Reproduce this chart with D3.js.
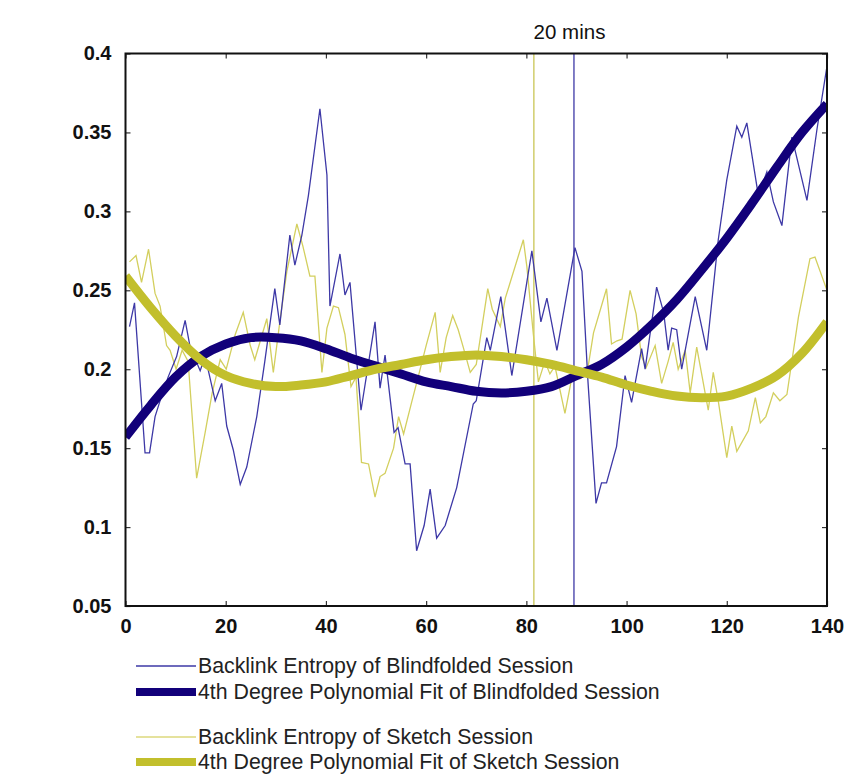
<!DOCTYPE html>
<html>
<head>
<meta charset="utf-8">
<script src="https://cdn.jsdelivr.net/npm/d3@7"></script>
<style>
  body { margin: 0; background: #ffffff; }
  svg { display: block; }
</style>
</head>
<body>
<div id="chart"></div>
<script>
// Thin series: [minute, entropy] vertices
const blindX = [0.8, 1.8, 3.9, 4.8, 5.9, 7.1, 8.5, 10.2, 11.9, 12.9, 14.9, 15.9, 17.9, 19.2, 20.2, 21.5, 22.9, 24.2, 26.2, 27.8,
  29.8, 30.8, 32.8, 33.8, 35.2, 36.5, 38.8, 40.2, 40.8, 42.8, 43.8, 44.8, 47.0, 49.8, 50.8, 51.8, 53.6, 54.4, 55.8, 56.8,
  58.1, 59.6, 60.8, 62.1, 63.8, 66.1, 69.4, 70.0, 72.1, 72.8, 74.9, 77.1, 81.1, 82.9, 84.1, 86.1, 89.7, 91.1, 92.3, 93.9,
  95.0, 96.0, 98.0, 99.7, 101.0, 103.0, 103.7, 106.0, 107.4, 108.3, 109.0, 110.0, 111.0, 113.7, 116.0, 118.3, 120.0, 122.0, 123.0, 124.0,
  126.3, 128.0, 129.3, 131.0, 133.0, 136.0, 138.0, 140.0];
const blindY = [0.227, 0.242, 0.147, 0.147, 0.170, 0.182, 0.195, 0.208, 0.231, 0.214, 0.199, 0.208, 0.180, 0.191, 0.164, 0.149, 0.127, 0.138, 0.170, 0.205,
  0.251, 0.228, 0.285, 0.266, 0.285, 0.310, 0.365, 0.323, 0.240, 0.273, 0.247, 0.255, 0.174, 0.230, 0.188, 0.209, 0.160, 0.163, 0.140, 0.140,
  0.085, 0.101, 0.124, 0.093, 0.101, 0.125, 0.178, 0.180, 0.220, 0.212, 0.246, 0.196, 0.275, 0.230, 0.245, 0.212, 0.277, 0.262, 0.192, 0.115,
  0.128, 0.128, 0.151, 0.196, 0.179, 0.213, 0.200, 0.252, 0.236, 0.212, 0.226, 0.225, 0.200, 0.246, 0.212, 0.282, 0.320, 0.354, 0.347, 0.356,
  0.310, 0.325, 0.306, 0.291, 0.347, 0.307, 0.352, 0.392];

const sketchX = [0.8, 2.1, 3.2, 4.6, 5.9, 6.9, 8.2, 8.9, 10.1, 11.3, 12.5, 14.2, 15.9, 17.3, 18.9, 20.1, 21.9, 23.5, 24.9, 25.8,
  28.2, 29.5, 30.8, 32.2, 34.2, 35.4, 36.8, 37.8, 39.2, 40.2, 41.5, 42.5, 43.8, 45.0, 46.0, 47.1, 48.5, 49.8, 50.8, 51.8,
  53.5, 54.5, 55.5, 57.1, 58.4, 60.0, 61.8, 62.8, 64.0, 65.3, 66.4, 67.4, 68.8, 70.0, 72.3, 73.2, 74.8, 75.8, 79.4, 80.1,
  81.4, 82.4, 83.7, 84.7, 85.7, 87.7, 89.1, 90.7, 92.1, 93.4, 96.0, 97.0, 98.1, 99.1, 100.7, 101.9, 103.0, 103.9, 105.7, 107.0,
  108.3, 109.3, 110.3, 111.7, 112.7, 114.0, 115.1, 116.3, 117.3, 118.3, 120.0, 121.0, 122.0, 124.3, 125.7, 126.7, 127.8, 129.3, 130.6, 132.0,
  134.3, 136.6, 137.6, 140.0];
const sketchY = [0.268, 0.272, 0.255, 0.276, 0.248, 0.240, 0.215, 0.212, 0.200, 0.212, 0.205, 0.131, 0.160, 0.185, 0.206, 0.200, 0.222, 0.236, 0.215, 0.206,
  0.232, 0.198, 0.230, 0.262, 0.292, 0.278, 0.259, 0.259, 0.198, 0.226, 0.240, 0.239, 0.222, 0.189, 0.195, 0.141, 0.140, 0.119, 0.132, 0.134,
  0.150, 0.170, 0.159, 0.179, 0.195, 0.215, 0.236, 0.198, 0.220, 0.234, 0.225, 0.214, 0.198, 0.203, 0.251, 0.238, 0.227, 0.245, 0.282, 0.265,
  0.222, 0.192, 0.205, 0.197, 0.202, 0.172, 0.195, 0.194, 0.197, 0.223, 0.251, 0.216, 0.218, 0.219, 0.250, 0.235, 0.208, 0.201, 0.215, 0.191,
  0.205, 0.217, 0.200, 0.212, 0.185, 0.214, 0.195, 0.174, 0.198, 0.180, 0.144, 0.164, 0.148, 0.161, 0.182, 0.166, 0.170, 0.185, 0.180, 0.184,
  0.233, 0.270, 0.271, 0.250];

// Polynomial fits, read every 5 minutes
const fitX = [0, 5, 10, 15, 20, 25, 30, 35, 40, 45, 50, 55, 60, 65, 70, 75, 80, 85, 90, 95, 100, 105, 110, 115, 120, 125, 130, 135, 140];
const blindFit = [0.157, 0.177, 0.195, 0.208, 0.216, 0.220, 0.220, 0.218, 0.213, 0.207, 0.202, 0.197, 0.192, 0.189, 0.186, 0.185, 0.186, 0.189, 0.196,
  0.203, 0.214, 0.228, 0.244, 0.263, 0.283, 0.305, 0.328, 0.350, 0.368];
const sketchFit = [0.259, 0.239, 0.221, 0.206, 0.196, 0.191, 0.189, 0.190, 0.192, 0.196, 0.200, 0.203, 0.206, 0.208, 0.209, 0.208, 0.206, 0.203, 0.199,
  0.195, 0.190, 0.186, 0.183, 0.182, 0.183, 0.188, 0.196, 0.210, 0.230];

// Session markers (minutes)
const markers = [{ x: 81.5, color: "#c9c554" }, { x: 89.5, color: "#3d38a6" }];

const xTicks = [0, 20, 40, 60, 80, 100, 120, 140];
const yTicks = [0.05, 0.1, 0.15, 0.2, 0.25, 0.3, 0.35, 0.4];

const legendItems = [
  { label: "Backlink Entropy of Blindfolded Session", color: "#3d38a6", w: 1.3 },
  { label: "4th Degree Polynomial Fit of Blindfolded Session", color: "#12007a", w: 8 },
  { label: "Backlink Entropy of Sketch Session", color: "#dcd87c", w: 1.3 },
  { label: "4th Degree Polynomial Fit of Sketch Session", color: "#c2bf2c", w: 8 }
];

const W = 861, H = 776;
const margin = { top: 53.5, left: 125.5 };
const width = 701.5, height = 552.5;

const svg = d3.select("#chart").append("svg")
  .attr("width", W)
  .attr("height", H)
  .style("font-family", "'Liberation Sans', Arial, sans-serif");

const g = svg.append("g").attr("transform", `translate(${margin.left},${margin.top})`);

const x = d3.scaleLinear().domain([0, 140]).range([0, width]);
const y = d3.scaleLinear().domain([0.05, 0.4]).range([height, 0]);

// Clip lines to the plot box
svg.append("clipPath").attr("id", "clip")
  .append("rect").attr("width", width).attr("height", height);

const plot = g.append("g").attr("clip-path", "url(#clip)");

// Vertical markers
plot.selectAll(".marker")
  .data(markers)
  .enter().append("line")
  .attr("x1", d => x(d.x)).attr("x2", d => x(d.x))
  .attr("y1", 0).attr("y2", height)
  .attr("stroke", d => d.color)
  .attr("stroke-width", 1.3);

const line = d3.line().x(d => x(d[0])).y(d => y(d[1]));
const smooth = d3.line().x(d => x(d[0])).y(d => y(d[1])).curve(d3.curveCatmullRom);

// Thin raw series
plot.append("path")
  .datum(sketchX.map((v, i) => [v, sketchY[i]]))
  .attr("d", line)
  .attr("fill", "none")
  .attr("stroke", "#d3cf5e")
  .attr("stroke-width", 1.3);

plot.append("path")
  .datum(blindX.map((v, i) => [v, blindY[i]]))
  .attr("d", line)
  .attr("fill", "none")
  .attr("stroke", "#3d38a6")
  .attr("stroke-width", 1.3);

// Thick fitted curves
plot.append("path")
  .datum(fitX.map((v, i) => [v, blindFit[i]]))
  .attr("d", smooth)
  .attr("fill", "none")
  .attr("stroke", "#12007a")
  .attr("stroke-width", 9);

plot.append("path")
  .datum(fitX.map((v, i) => [v, sketchFit[i]]))
  .attr("d", smooth)
  .attr("fill", "none")
  .attr("stroke", "#c2bf2c")
  .attr("stroke-width", 9);

// Axes, MATLAB style: inward ticks on every side
const tickFmt = d => d === 0.4 ? "0.4" : d3.format(".2~f")(d);
const tickFont = "'Liberation Sans Narrow', 'Arial Narrow', 'Liberation Sans', sans-serif";

g.append("g")
  .attr("transform", `translate(0,${height})`)
  .call(d3.axisBottom(x).tickValues(xTicks).tickSizeInner(-5).tickSizeOuter(0).tickPadding(13))
  .call(a => a.selectAll("text").attr("font-size", 20).attr("font-weight", "bold")
    .attr("font-family", tickFont).attr("fill", "#111"));

g.append("g")
  .call(d3.axisLeft(y).tickValues(yTicks).tickFormat(tickFmt).tickSizeInner(-5).tickSizeOuter(0).tickPadding(14))
  .call(a => a.selectAll("text").attr("font-size", 20).attr("font-weight", "bold")
    .attr("font-family", tickFont).attr("fill", "#111"));

g.append("g")
  .call(d3.axisTop(x).tickValues(xTicks).tickSizeInner(-5).tickSizeOuter(0).tickFormat(""));

g.append("g")
  .attr("transform", `translate(${width},0)`)
  .call(d3.axisRight(y).tickValues(yTicks).tickSizeInner(-5).tickSizeOuter(0).tickFormat(""));

g.selectAll(".domain").remove();
g.selectAll(".tick line").attr("stroke", "#333").attr("stroke-width", 1.2);

g.append("rect")
  .attr("width", width).attr("height", height)
  .attr("fill", "none")
  .attr("stroke", "#111")
  .attr("stroke-width", 2);

// Annotation above the markers
svg.append("text")
  .attr("x", 569.5)
  .attr("y", 39)
  .attr("text-anchor", "middle")
  .attr("font-size", 20.5)
  .attr("fill", "#111")
  .text("20 mins");

// Legend
const legendY = [666, 692, 737, 762];
const legend = svg.append("g");
legendItems.forEach((d, i) => {
  legend.append("line")
    .attr("x1", 136).attr("x2", 196)
    .attr("y1", legendY[i]).attr("y2", legendY[i])
    .attr("stroke", d.color)
    .attr("stroke-width", d.w);
  legend.append("text")
    .attr("x", 198)
    .attr("y", legendY[i])
    .attr("dy", "0.35em")
    .attr("font-size", 21.3)
    .attr("fill", "#222")
    .text(d.label);
});
</script>
</body>
</html>
